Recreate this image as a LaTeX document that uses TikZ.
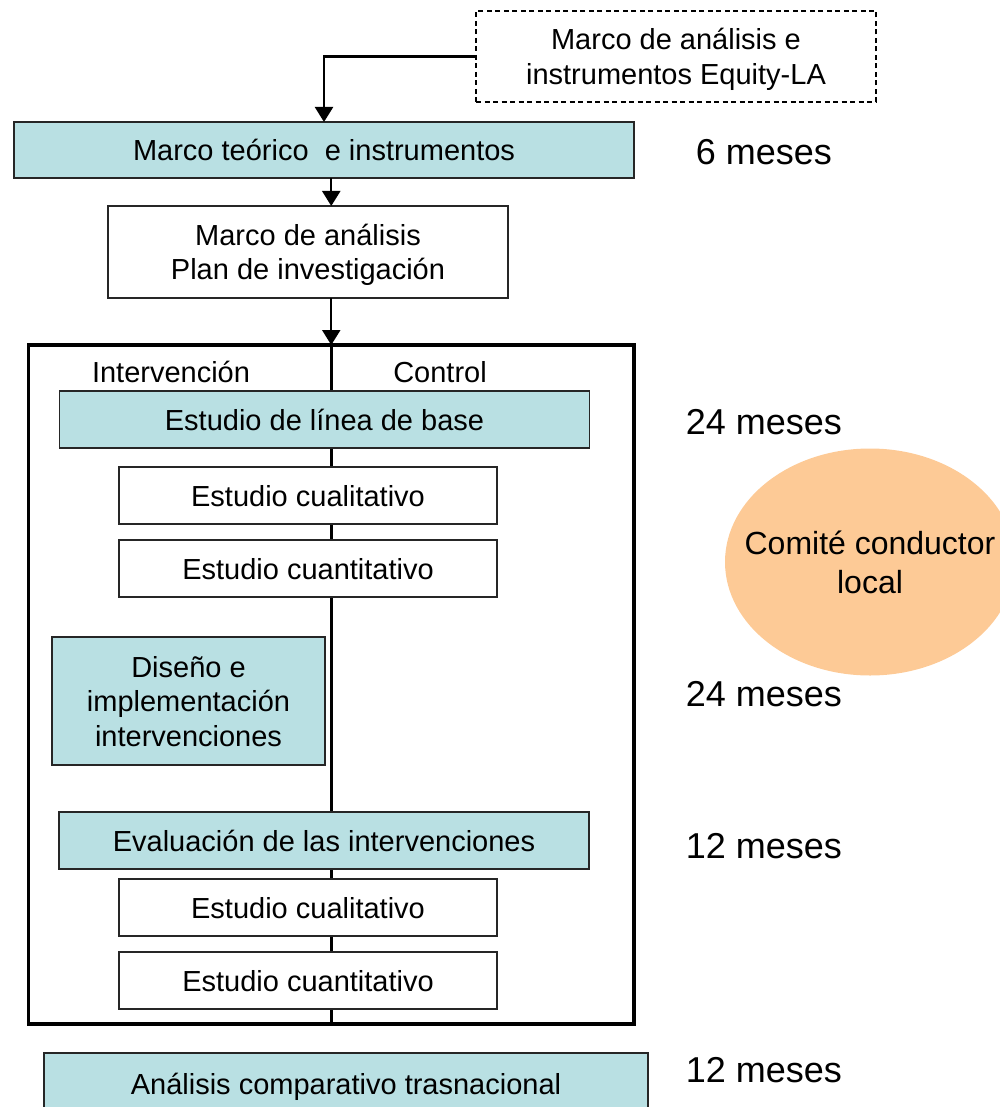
\documentclass[tikz,border=0pt]{standalone}
\usepackage{fontspec}
\setmainfont{Liberation Sans}
\usetikzlibrary{arrows.meta,shapes.geometric}
\definecolor{tealfill}{HTML}{B9E0E3}
\definecolor{orangefill}{HTML}{FDCA96}
\begin{document}
\begin{tikzpicture}[x=1pt,y=-1pt,
  box/.style={draw=black!85, line width=1.5pt, rectangle, inner sep=0pt, outer sep=0pt,
    font=\fontsize{29}{34.5}\selectfont, align=center, text height=21pt, text depth=0pt},
  tealbox/.style={box, fill=tealfill},
  whitebox/.style={box, fill=white},
  dashbox/.style={box, draw=black, fill=white, dash pattern=on 5pt off 3.5pt},
  frame/.style={draw=black, line width=3.5pt, inner sep=0pt, outer sep=0pt},
  dur/.style={font=\fontsize{36}{42}\selectfont, inner sep=0pt, text height=25.8pt, text depth=0pt},
  coltitle/.style={font=\fontsize{29}{34.5}\selectfont, inner sep=0pt, text height=21pt, text depth=0pt},
  conn/.style={line width=2.3pt, -{Triangle[width=18pt,length=15pt]}},
  divider/.style={line width=3.5pt},
  committee/.style={ellipse, fill=orangefill, draw=none, inner sep=0pt, outer sep=0pt,
    minimum width=290pt, minimum height=227pt},
  committeetext/.style={font=\fontsize{32}{39}\selectfont, align=center, inner sep=0pt,
    text height=62pt, text depth=0pt}
]
\useasboundingbox (0,0) rectangle (1000,1107);

% top
\node[dashbox, minimum width=400pt, minimum height=91pt, text height=55.5pt] (equity) at (676,56.5)
  {Marco de análisis e\\instrumentos Equity-LA};
\node[tealbox, minimum width=620pt, minimum height=56pt] (marco) at (324,150)
  {Marco teórico\ \ e instrumentos};
\node[whitebox, minimum width=400pt, minimum height=92pt, text height=55.5pt] (plan) at (308,252)
  {Marco de análisis\\Plan de investigación};

% study frame
\node[frame, minimum width=605.5pt, minimum height=679pt] (study) at (331.25,684.5) {};
\draw[divider] (study.north) -- (study.south);

\node[coltitle] (interv) at (171,372) {Intervención};
\node[coltitle] (control) at (440,372) {Control};

\node[tealbox, minimum width=530pt, minimum height=57pt] (base) at (324.5,419.5) {Estudio de línea de base};
\node[whitebox, minimum width=378pt, minimum height=57pt] (cual1) at (308,495.5) {Estudio cualitativo};
\node[whitebox, minimum width=378pt, minimum height=57pt] (cuan1) at (308,568.5) {Estudio cuantitativo};
\node[tealbox, minimum width=273pt, minimum height=128pt, text height=90pt] (diseno) at (188.5,701)
  {Diseño e\\implementación\\intervenciones};
\node[tealbox, minimum width=530pt, minimum height=57pt] (evalu) at (324,840.5) {Evaluación de las intervenciones};
\node[whitebox, minimum width=378pt, minimum height=57pt] (cual2) at (308,907.5) {Estudio cualitativo};
\node[whitebox, minimum width=378pt, minimum height=57pt] (cuan2) at (308,980.5) {Estudio cuantitativo};

\node[tealbox, minimum width=604pt, minimum height=62pt] (analisis) at (346,1084) {Análisis comparativo trasnacional};

% durations
\node[dur] (d1) at (764,152) {6 meses};
\node[dur] (d2) at (764,422) {24 meses};
\node[dur] (d3) at (764,694) {24 meses};
\node[dur] (d4) at (764,846) {12 meses};
\node[dur] (d5) at (764,1070) {12 meses};

% committee
\node[committee, label={[committeetext]center:Comité conductor\\local}] (comite) at (870,562) {};

% connectors
\draw[conn] (equity.west) -| (marco.north);
\draw[conn] (marco.south -| study.north) -- (plan.north -| study.north);
\draw[conn] (plan.south -| study.north) -- (study.north);
\end{tikzpicture}
\end{document}
